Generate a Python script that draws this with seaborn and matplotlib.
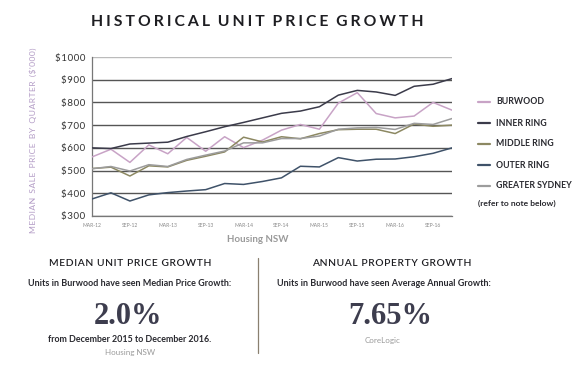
import numpy as np
import pandas as pd
import matplotlib
matplotlib.use("Agg")
import matplotlib.pyplot as plt
import seaborn as sns

quarters = ["MAR-12", "JUN-12", "SEP-12", "DEC-12", "MAR-13", "JUN-13", "SEP-13", "DEC-13",
            "MAR-14", "JUN-14", "SEP-14", "DEC-14", "MAR-15", "JUN-15", "SEP-15", "DEC-15",
            "MAR-16", "JUN-16", "SEP-16", "DEC-16"]
burwood = [560, 594, 536, 613, 574, 646, 585, 649, 601, 634, 678, 703, 682, 797, 843, 751, 732, 740, 800, 766]
inner_ring = [600, 597, 617, 621, 625, 650, 671, 693, 712, 732, 752, 762, 781, 832, 853, 846, 831, 871, 880, 905]
middle_ring = [509, 515, 476, 521, 516, 545, 563, 582, 647, 626, 649, 640, 663, 680, 682, 682, 663, 705, 695, 700]
outer_ring = [375, 402, 366, 393, 403, 410, 416, 443, 439, 452, 468, 519, 516, 557, 542, 550, 551, 561, 576, 600]
greater_sydney = [508, 518, 498, 526, 518, 549, 568, 586, 622, 622, 641, 641, 652, 682, 688, 690, 681, 708, 703, 729]
series_names = ["BURWOOD", "INNER RING", "MIDDLE RING", "OUTER RING", "GREATER SYDNEY"]
yticks = [300, 400, 500, 600, 700, 800, 900, 1000]
ytick_labels = ["$300", "$400", "$500", "$600", "$700", "$800", "$900", "$1000"]

colors = {"BURWOOD": "#c8a3c6", "INNER RING": "#3b3b4a", "MIDDLE RING": "#8c8862",
          "OUTER RING": "#3f5269", "GREATER SYDNEY": "#9c9c9c"}

rows = []
for name, vals in zip(series_names, [burwood, inner_ring, middle_ring, outer_ring, greater_sydney]):
    for i, v in enumerate(vals):
        rows.append({"q": i, "value": v, "series": name})
df = pd.DataFrame(rows)

sns.set_style("white")
plt.rcParams['font.family'] = ['Lato', 'DejaVu Sans']

def spaced(s, sep="\u2009", wsep="  "):
    return wsep.join(sep.join(w) for w in s.split(" "))

fig = plt.figure(figsize=(5.82, 3.65), dpi=100)
ax = fig.add_axes([92/582, 1-216/365, 360/582, 159/365])

for y in yticks:
    ax.axhline(y, color="#bbbbbb" if y == 1000 else "#555555", lw=1.0, zorder=0)

sns.lineplot(data=df, x="q", y="value", hue="series", hue_order=series_names,
             palette=colors, linewidth=1.1, legend=False, ax=ax, zorder=3)

ax.set_xlim(0, 19)
ax.set_ylim(300, 1000)
ax.set_xticks(range(20))
ax.set_xticklabels([q if i % 2 == 0 else "" for i, q in enumerate(quarters)],
                   fontsize=3.6, color="#888888")
ax.set_yticks(yticks)
ax.set_yticklabels([spaced(t, "\u200a") for t in ytick_labels], fontsize=7.0, color="#333333")
ax.tick_params(axis="x", direction="in", length=3, color="#666666", pad=5)
ax.tick_params(axis="y", direction="in", length=2, color="#666666", pad=5)
for s in ["top", "right"]:
    ax.spines[s].set_visible(False)
for s in ["left", "bottom"]:
    ax.spines[s].set_color("#777777")
    ax.spines[s].set_linewidth(0.9)
ax.set_xlabel("")
ax.set_ylabel("")

# titles
fig.text(257/582, 1-22/365, spaced("HISTORICAL UNIT PRICE GROWTH", "\u2009\u200a"),
         ha="center", va="center", fontsize=11.3, fontweight="bold", color="#1e1e22")
fig.text(33/582, 1-140/365, spaced("MEDIAN SALE PRICE BY QUARTER ($'000)", "\u200a"),
         rotation=90, ha="center", va="center", fontsize=6.1, color="#b39cc6")
fig.text(258/582, 1-240/365, "Housing NSW", ha="center", va="center",
         fontsize=7, fontweight="bold", color="#9a9a9a")

# legend
ys = [102, 123, 144, 165, 186]
for name, y in zip(series_names, ys):
    fig.add_artist(plt.Line2D([478/582, 490/582], [1-y/365, 1-y/365],
                              color=colors[name], lw=1.6, transform=fig.transFigure))
    fig.text(496/582, 1-y/365, name, ha="left", va="center",
             fontsize=6.3, fontweight="bold", color="#2a2a30")
fig.text(478/582, 1-203/365, "(refer to note below)", ha="left", va="center",
         fontsize=6.1, fontweight="bold", color="#2a2a30")

# bottom section
fig.add_artist(plt.Line2D([258/582, 258/582], [1-258/365, 1-353/365],
                          color="#8a8070", lw=0.9, transform=fig.transFigure))
fig.text(130/582, 1-264/365, spaced("MEDIAN UNIT PRICE GROWTH", "\u200a", " \u2009"),
         ha="center", va="center", fontsize=7.4, fontweight="semibold", color="#1e1e22")
fig.text(392/582, 1-264/365, spaced("ANNUAL PROPERTY GROWTH", "\u200a", " \u2009"),
         ha="center", va="center", fontsize=7.4, fontweight="semibold", color="#1e1e22")
fig.text(130/582, 1-284/365, "Units in Burwood have seen Median Price Growth:", ha="center",
         va="center", fontsize=6.5, fontweight="bold", color="#2a2a30")
fig.text(384/582, 1-284/365, "Units in Burwood have seen Average Annual Growth:", ha="center",
         va="center", fontsize=6.5, fontweight="bold", color="#2a2a30")
fig.text(128/582, 1-324/365, "2.0%", ha="center", va="baseline", fontsize=22,
         fontweight="bold", family="Liberation Serif", color="#3d3d4e")
fig.text(390/582, 1-324/365, "7.65%", ha="center", va="baseline", fontsize=22,
         fontweight="bold", family="Liberation Serif", color="#3d3d4e")
fig.text(130/582, 1-340/365, "from December 2015 to December 2016.", ha="center",
         va="center", fontsize=6.4, fontweight="bold", color="#2a2a30")
fig.text(130/582, 1-352/365, "Housing NSW", ha="center", va="center",
         fontsize=5.8, color="#9a9a9a")
fig.text(383/582, 1-340/365, "CoreLogic", ha="center", va="center",
         fontsize=5.8, color="#9a9a9a")

fig.savefig("out.png", dpi=100, facecolor="white")
